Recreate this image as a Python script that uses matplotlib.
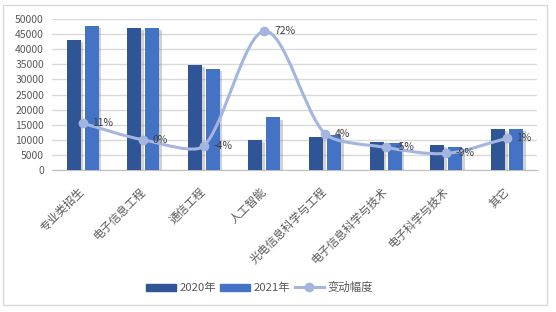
import numpy as np
import matplotlib
matplotlib.use('Agg')
import matplotlib.pyplot as plt
import matplotlib.patheffects as pe
from matplotlib.path import Path
from matplotlib.patches import PathPatch, Rectangle
from matplotlib.lines import Line2D

plt.rcParams['font.family'] = ['Noto Sans CJK SC', 'DejaVu Sans']

categories = ['专业类招生', '电子信息工程', '通信工程', '人工智能',
              '光电信息科学与工程', '电子信息科学与技术', '电子科学与技术', '其它']
v2020 = [43100, 47000, 34800, 10100, 11000, 9350, 8300, 13600]
v2021 = [47800, 47000, 33500, 17400, 11450, 8850, 7550, 13750]
change = [0.11, 0.00, -0.04, 0.72, 0.04, -0.05, -0.09, 0.01]
yticks = np.arange(0, 50001, 5000)

c2020 = '#2F5597'
c2021 = '#4472C4'
cline = '#A4B5DF'
ctext = '#595959'


def smooth_path(ax, xs, ys):
    # smoothed line built in screen space; arms shortened on a short
    # segment that sits next to a long one
    tr = ax.transData
    p = tr.transform(np.column_stack([xs, ys]).astype(float))
    n = len(p)
    seg = np.linalg.norm(np.diff(p, axis=0), axis=1)
    verts = [p[0]]
    codes = [Path.MOVETO]
    for i in range(n - 1):
        d = seg[i]
        if i > 0:
            t1 = (p[i + 1] - p[i - 1]) / 6
            a1 = min(np.linalg.norm(t1), 2 / 3 * d * d / (seg[i - 1] + d))
        else:
            t1 = (p[i + 1] - p[i]) / 3
            a1 = np.linalg.norm(t1)
        if i + 2 < n:
            t2 = (p[i + 2] - p[i]) / 6
            a2 = min(np.linalg.norm(t2), 2 / 3 * d * d / (seg[i + 1] + d))
        else:
            t2 = (p[i + 1] - p[i]) / 3
            a2 = np.linalg.norm(t2)
        c1 = p[i] + t1 / np.linalg.norm(t1) * a1
        c2 = p[i + 1] - t2 / np.linalg.norm(t2) * a2
        verts += [c1, c2, p[i + 1]]
        codes += [Path.CURVE4] * 3
    verts = tr.inverted().transform(np.array(verts))
    return Path(verts, codes)


fig = plt.figure(figsize=(5.56, 3.12), dpi=100)
fig.patches.append(Rectangle((0.006, 0.022), 0.978, 0.962, transform=fig.transFigure,
                             fill=False, edgecolor='#D9D9D9', linewidth=1))
ax = fig.add_axes([0.094, 0.455, 0.872, 0.484])
x = np.arange(len(categories))
w = 0.23
shadow = [pe.SimplePatchShadow(offset=(2, -1.5), shadow_rgbFace='#808080', alpha=0.35),
          pe.Normal()]
b1 = ax.bar(x - 0.148, v2020, w, color=c2020, zorder=3)
b2 = ax.bar(x + 0.148, v2021, w, color=c2021, zorder=3)
for b in list(b1) + list(b2):
    b.set_path_effects(shadow)

ax.set_ylim(0, 50000)
ax.set_xlim(-0.5, len(categories) - 0.5)
ax.set_yticks(yticks)
ax.yaxis.grid(True, color='#D9D9D9', linewidth=1, zorder=0)
ax.set_axisbelow(True)
for s in ['top', 'right', 'left']:
    ax.spines[s].set_visible(False)
ax.spines['bottom'].set_color('#BFBFBF')
ax.tick_params(axis='both', length=0, colors=ctext, labelsize=7.5)
ax.tick_params(axis='y', pad=6)
ax.set_xticks(x)
ax.set_xticklabels(categories, rotation=45, ha='right', va='center',
                   rotation_mode='anchor', fontsize=8.2)
ax.tick_params(axis='x', pad=14)

ax2 = ax.twinx()
ax2.set_ylim(-0.2, 0.8)
ax2.axis('off')
ax2.add_patch(PathPatch(smooth_path(ax2, x, change), fill=False, edgecolor=cline,
                        linewidth=2.2, zorder=4))
ax2.plot(x, change, 'o', color=cline, markersize=6, zorder=5)
for xi, c in zip(x, change):
    ax2.annotate(f'{c:.0%}', (xi, c), xytext=(7, 0), textcoords='offset points',
                 ha='left', va='center', fontsize=7.5, color='#404040', zorder=6)

handles = [Rectangle((0, 0), 1, 1, color=c2020), Rectangle((0, 0), 1, 1, color=c2021),
           Line2D([], [], color=cline, linewidth=2.2, marker='o', markersize=6)]
fig.legend(handles, ['2020年', '2021年', '变动幅度'], loc='center',
           bbox_to_anchor=(0.467, 0.078), ncol=3, frameon=False, fontsize=8.2,
           handlelength=2.6, handleheight=0.6, handletextpad=0.3, columnspacing=0.4,
           labelcolor=ctext)

fig.savefig('out.png', dpi=100)
